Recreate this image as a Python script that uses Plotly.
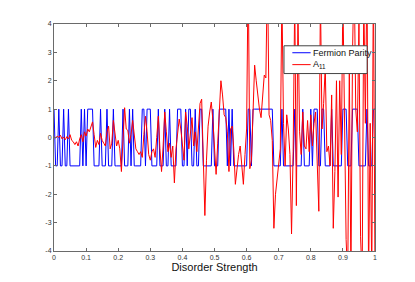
import plotly.graph_objects as go

# x samples (disorder strength)
disorder = [round(i * 0.005, 3) for i in range(201)]

# Fermion parity (+1 / -1)
parity = [
    1, -1, -1, 1, -1, -1, 1, -1, -1, 1,
    -1, -1, -1, -1, -1, -1, -1, 1, -1, 1,
    -1, 1, 1, 1, 1, -1, -1, -1, -1, 1,
    -1, -1, -1, 1, -1, -1, -1, 1, -1, -1,
    -1, -1, -1, 1, -1, -1, -1, 1, -1, 1,
    -1, -1, -1, -1, -1, 1, 1, -1, 1, 1,
    1, -1, -1, -1, -1, 1, -1, -1, -1, 1,
    -1, -1, 1, -1, -1, -1, -1, 1, 1, 1,
    -1, -1, 1, -1, 1, 1, -1, -1, 1, -1,
    -1, 1, 1, -1, -1, -1, -1, -1, -1, 1,
    -1, -1, -1, 1, 1, 1, 1, 1, -1, 1,
    -1, 1, -1, -1, -1, -1, -1, -1, -1, -1,
    -1, 1, 1, -1, 1, 1, 1, 1, 1, 1,
    1, 1, 1, 1, 1, 1, 1, -1, -1, -1,
    -1, -1, 1, -1, -1, -1, -1, -1, -1, -1,
    1, -1, -1, -1, -1, 1, -1, -1, -1, -1,
    1, -1, 1, 1, 1, -1, -1, 1, 1, -1,
    -1, -1, -1, 1, -1, -1, -1, -1, -1, -1,
    1, 1, 1, -1, -1, -1, 1, 1, 1, 1,
    -1, -1, -1, -1, -1, 1, -1, -1, -1, 1,
    1,
]

# A_11 values
a11 = [
    0.02, -0.02, 0.05, 0.00, 0.08, -0.05, 0.02, -0.08, 0.03, -0.05,
    0.10, -0.10, -0.15, -0.25, -0.15, -0.30, -0.05, 0.10, -0.15, 0.20,
    0.05, 0.30, 0.20, 0.40, 0.55, 0.10, -0.35, -0.10, -0.25, 0.15,
    -0.10, -0.20, -0.30, 0.20, 0.40, -0.40, -0.20, 0.60, 0.10, -0.30,
    -0.10, -0.40, -1.20, 0.10, 1.05, 0.30, 0.25, -0.20, 0.10, 0.60,
    0.00, -0.40, -0.50, -0.60, -0.50, -0.70, 0.10, 0.75, 0.20, -0.60,
    -0.80, -0.50, -0.40, -0.70, 0.00, 0.75, -0.40, -1.20, -0.30, 0.90,
    0.20, -0.50, -0.20, -0.70, -0.30, -1.60, -0.40, 0.20, 0.65, 0.30,
    -0.30, -0.80, 0.90, 0.40, -0.40, 0.10, 0.70, -0.30, 0.20, -0.50,
    0.30, 1.20, 1.35, -0.40, -2.75, -0.80, 0.40, 0.90, 1.25, 0.60,
    -0.50, -1.30, -0.20, 1.20, 2.00, 1.50, 0.80, 0.70, 0.20, -1.20,
    0.30, 0.40, -0.40, -1.65, -1.00, -0.60, -0.30, -1.00, -1.65, -0.60,
    0.30, 6.00, -1.10, -0.80, 0.80, 2.55, 2.00, 1.40, 1.00, 0.70,
    1.50, 2.20, 2.10, 6.00, 0.80, 0.60, -0.10, -3.20, -2.00, -1.50,
    -0.80, -0.40, 5.00, 0.50, -1.00, 0.80, 0.30, -0.60, -3.40, -0.50,
    5.00, -2.40, 4.50, 0.20, -0.60, 0.90, -0.30, -0.40, 0.60, -0.50,
    0.80, -0.30, 0.50, 0.90, -0.90, -2.60, 5.00, 0.30, 1.20, 2.50,
    -0.50, -0.30, -1.00, 1.50, -3.20, -1.20, 2.00, -2.10, 2.00, -0.60,
    5.00, 0.50, -3.60, -5.00, 2.50, -5.00, 3.00, 6.00, 1.00, 0.20,
    4.00, -3.50, -5.00, 5.00, 0.50, 6.00, -5.00, 0.50, -5.00, 6.00,
    -5.00,
]

x_ticks = [0, 0.1, 0.2, 0.3, 0.4, 0.5, 0.6, 0.7, 0.8, 0.9, 1]
x_tick_labels = ["0", "0.1", "0.2", "0.3", "0.4", "0.5", "0.6", "0.7", "0.8", "0.9", "1"]
y_ticks = [-4, -3, -2, -1, 0, 1, 2, 3, 4]
y_tick_labels = ["-4", "-3", "-2", "-1", "0", "1", "2", "3", "4"]

series_names = ["Fermion Parity", "A<sub>11</sub>"]
series_colors = ["rgb(0,0,255)", "rgb(255,0,0)"]

font_family = "Liberation Sans, Arial, Helvetica, sans-serif"
axis_color = "#6a6a6a"

fig = go.Figure()
for name, yv, col in zip(series_names, [parity, a11], series_colors):
    fig.add_trace(go.Scatter(
        x=disorder, y=yv, mode="lines", name=name,
        line=dict(color=col, width=1), showlegend=False,
    ))

# MATLAB-style legend box (paper coordinates)
leg_x0, leg_x1, leg_y0, leg_y1 = 0.7165, 0.9755, 0.7817, 0.904
fig.add_shape(type="rect", xref="paper", yref="paper",
              x0=leg_x0, x1=leg_x1, y0=leg_y0, y1=leg_y1,
              fillcolor="white", line=dict(color="#444444", width=1), layer="above")
row_y = [0.8734, 0.8210]
for name, col, ry in zip(series_names, series_colors, row_y):
    fig.add_shape(type="line", xref="paper", yref="paper",
                  x0=0.7425, x1=0.7995, y0=ry, y1=ry,
                  line=dict(color=col, width=1), layer="above")
    fig.add_annotation(xref="paper", yref="paper", x=0.8000, y=ry,
                       xanchor="left", yanchor="middle", showarrow=False,
                       text=name, font=dict(family=font_family, size=9, color="#111111"))

axis_common = dict(
    showline=True, linecolor=axis_color, linewidth=1, mirror="ticks",
    ticks="inside", ticklen=3, tickcolor=axis_color, tickwidth=1,
    showgrid=False, zeroline=False,
    tickfont=dict(family=font_family, size=7, color="#333333"),
)

fig.update_layout(
    width=407, height=274,
    margin=dict(l=46, r=40, t=14, b=31),
    paper_bgcolor="white", plot_bgcolor="white",
    font=dict(family=font_family),
    showlegend=False,
    xaxis=dict(
        range=[0, 1], tickvals=x_ticks, ticktext=x_tick_labels,
        title=dict(text="Disorder Strength", standoff=0,
                   font=dict(family=font_family, size=11, color="#111111")),
        **axis_common,
    ),
    yaxis=dict(
        range=[-4, 4], tickvals=y_ticks, ticktext=y_tick_labels,
        **axis_common,
    ),
)

fig.write_html("out.html")
